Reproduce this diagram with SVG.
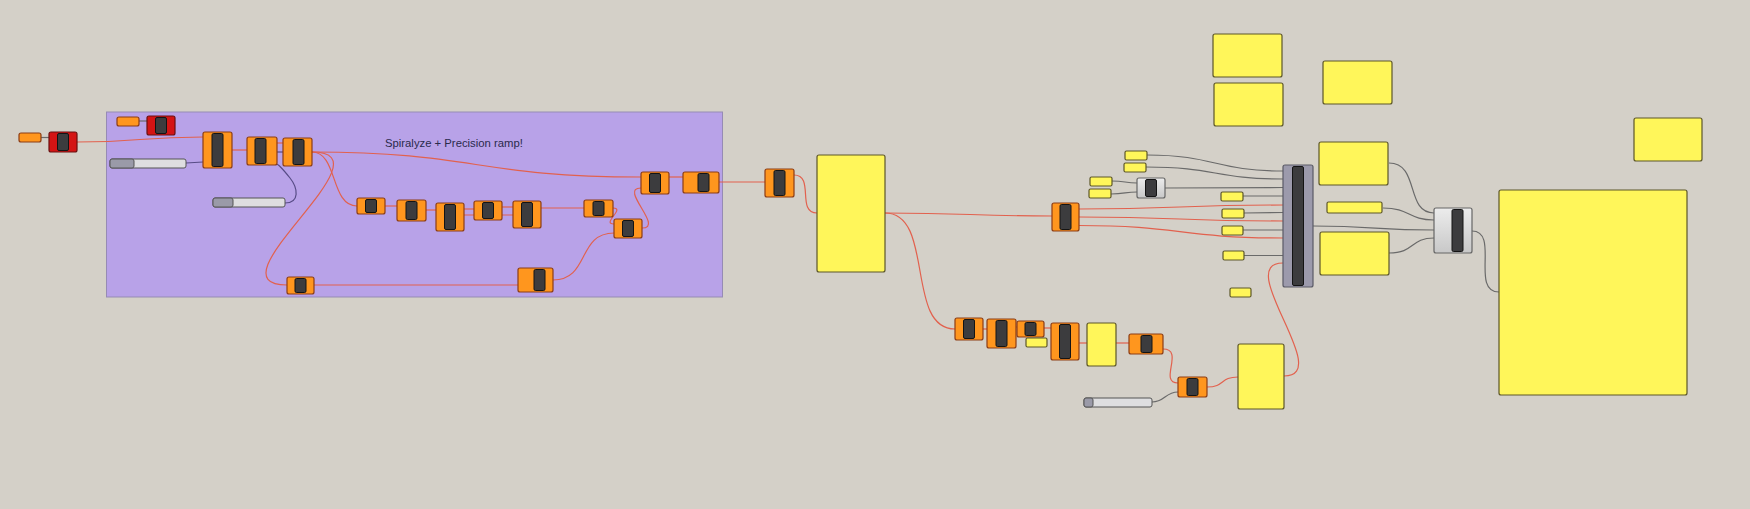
<svg xmlns="http://www.w3.org/2000/svg" width="1750" height="509" viewBox="0 0 1750 509">
<defs>
<style>
.bg{fill:#d4d0c8}
.grp{fill:#b8a2e8;stroke:#968bb4;stroke-width:1}
.oc{fill:#ff961e;stroke:#8c3c14;stroke-width:1.2}
.rc{fill:#d41414;stroke:#6a1010;stroke-width:1.2}
.gc{fill:url(#gg);stroke:#666;stroke-width:1.2}
.sc{fill:#9c9aac;stroke:#5a5a66;stroke-width:1.2}
.bar{fill:#3c3c3e;stroke:#141414;stroke-width:1}
.yp{fill:#fff65a;stroke:#5c5628;stroke-width:1.2}
.sl{fill:#dedee0;stroke:#555;stroke-width:1}
.slk{fill:#9a9aa8;stroke:#555;stroke-width:1}
.wr{fill:none;stroke:#e2614e;stroke-width:1.2}
.wg{fill:none;stroke:#6a6a6a;stroke-width:1.2}
.wp{fill:none;stroke:#574c86;stroke-width:1.2}
.t{font-family:"Liberation Sans",Arial,sans-serif;font-size:11.3px;fill:#2a2a4c}
</style>
<linearGradient id="gg" x1="0" y1="0" x2="0" y2="1">
<stop offset="0" stop-color="#ececec"/>
<stop offset="1" stop-color="#c8c8c8"/>
</linearGradient>
</defs>
<rect class="bg" x="0" y="0" width="1750" height="509"/>

<g id="group-spiralyze">
<rect class="grp" x="106.5" y="112" width="616" height="185"/>
<text class="t" x="385" y="146.5">Spiralyze + Precision ramp!</text>
</g>

<g id="connectors">
<path class="wg" d="M41,137.5 L49,137.5"/>
<path class="wg" d="M139,121 L147,121"/>
<path class="wr" d="M77,142 C140,142 140,137 203,137"/>
<path class="wp" d="M186,163 L203,162"/>
<path class="wr" d="M232,150 L247,150"/>
<path class="wr" d="M277,143 L283,143"/>
<path class="wp" d="M277,152 L283,152"/>
<path class="wp" d="M285,203 C300,203 298,188 290,178 C282,168 277,163 277,165"/>
<path class="wr" d="M312,152 C476,152 476,177 641,177"/>
<path class="wr" d="M312,152 C338,152 330,206 357,206"/>
<path class="wr" d="M312,152 C395,152 205,285 287,285"/>
<path class="wr" d="M385,206 L397,206"/>
<path class="wr" d="M426,210 L436,210"/>
<path class="wr" d="M464,209 L474,209"/>
<path class="wr" d="M464,215 L513,215"/>
<path class="wr" d="M502,207 L513,207"/>
<path class="wr" d="M541,208 L584,208"/>
<path class="wr" d="M613,208 C626,208 601,224 614,224"/>
<path class="wr" d="M314,285 L518,285"/>
<path class="wr" d="M553,280 C590,280 577,233 614,233"/>
<path class="wr" d="M642,228 C665,228 618,188 641,188"/>
<path class="wr" d="M669,177 L683,177"/>
<path class="wr" d="M719,182 L765,182"/>
<path class="wr" d="M794,175 C815,175 796,213 817,213"/>
<path class="wr" d="M885,213 C970,213 970,216 1052,216"/>
<path class="wr" d="M885,213 C935,213 905,329 955,329"/>
<path class="wr" d="M1079,209 C1180,209 1180,205 1283,205"/>
<path class="wr" d="M1079,217 C1180,217 1180,221 1283,221"/>
<path class="wr" d="M1079,225.5 C1180,225.5 1180,238 1283,238"/>
<path class="wg" d="M1147,155 C1215,155 1215,171 1283,171"/>
<path class="wg" d="M1146,167 C1215,167 1215,179 1283,179"/>
<path class="wg" d="M1112,181 C1125,181 1125,183 1137,183"/>
<path class="wg" d="M1111,194 C1125,194 1125,192 1137,192"/>
<path class="wg" d="M1165,188 L1283,187.5"/>
<path class="wg" d="M1243,196 L1283,196"/>
<path class="wg" d="M1244,213 L1283,212.5"/>
<path class="wg" d="M1243,230 L1283,230"/>
<path class="wg" d="M1244,255.5 L1283,255.5"/>
<path class="wr" d="M1284,376 C1335,376 1232,263 1283,263"/>
<path class="wg" d="M1313,226 C1375,226 1375,230 1434,230"/>
<path class="wg" d="M1389,163 C1420,163 1405,213 1434,213"/>
<path class="wg" d="M1383,208 C1410,208 1408,220 1434,220"/>
<path class="wg" d="M1389,253 C1415,253 1410,238 1434,238"/>
<path class="wg" d="M1472,231 C1500,231 1470,292 1499,292"/>
<path class="wr" d="M983,329 L987,329"/>
<path class="wr" d="M1016,327 L1017,327"/>
<path class="wr" d="M1043,328 L1051,328"/>
<path class="wr" d="M1079,343 L1087,343"/>
<path class="wr" d="M1116,343 L1129,343"/>
<path class="wr" d="M1163,349 C1185,349 1158,383 1178,383"/>
<path class="wg" d="M1152,402 C1165,402 1165,392 1178,392"/>
<path class="wr" d="M1207,387 C1225,387 1220,377 1238,377"/>
</g>

<g id="param-1"><rect class="oc" x="19" y="133" width="22" height="9" rx="2"/></g>
<g id="red-1"><rect class="rc" x="49" y="132" width="28" height="20" rx="2"/><rect class="bar" x="57.5" y="133.5" width="11" height="17" rx="1.5"/></g>
<g id="param-2"><rect class="oc" x="117" y="117" width="22" height="9" rx="2"/></g>
<g id="red-2"><rect class="rc" x="147" y="116" width="28" height="19" rx="2"/><rect class="bar" x="155.5" y="117.5" width="11" height="16" rx="1.5"/></g>

<g id="slider-1"><rect class="sl" x="110" y="159" width="76" height="9" rx="2"/><rect class="slk" x="110" y="159" width="24" height="9" rx="2"/></g>
<g id="slider-2"><rect class="sl" x="213" y="198" width="72" height="9" rx="2"/><rect class="slk" x="213" y="198" width="20" height="9" rx="2"/></g>

<g id="comp-A"><rect class="oc" x="203" y="132" width="29" height="36" rx="2"/><rect class="bar" x="212" y="133.5" width="11" height="33" rx="1.5"/></g>
<g id="comp-B"><rect class="oc" x="247" y="137" width="30" height="28" rx="2"/><rect class="bar" x="255" y="138.5" width="11" height="25" rx="1.5"/></g>
<g id="comp-C"><rect class="oc" x="283" y="138" width="29" height="28" rx="2"/><rect class="bar" x="293" y="139.5" width="11" height="25" rx="1.5"/></g>
<g id="comp-D"><rect class="oc" x="287" y="277" width="27" height="17" rx="2"/><rect class="bar" x="295" y="278.5" width="11" height="14" rx="1.5"/></g>
<g id="comp-E"><rect class="oc" x="357" y="198" width="28" height="16" rx="2"/><rect class="bar" x="365.5" y="199.5" width="11" height="13" rx="1.5"/></g>
<g id="comp-F"><rect class="oc" x="397" y="200" width="29" height="21" rx="2"/><rect class="bar" x="406" y="201.5" width="11" height="18" rx="1.5"/></g>
<g id="comp-G"><rect class="oc" x="436" y="203" width="28" height="28" rx="2"/><rect class="bar" x="444.5" y="204.5" width="11" height="25" rx="1.5"/></g>
<g id="comp-H"><rect class="oc" x="474" y="201" width="28" height="19" rx="2"/><rect class="bar" x="482.5" y="202.5" width="11" height="16" rx="1.5"/></g>
<g id="comp-I"><rect class="oc" x="513" y="201" width="28" height="27" rx="2"/><rect class="bar" x="521.5" y="202.5" width="11" height="24" rx="1.5"/></g>
<g id="comp-J"><rect class="oc" x="518" y="268" width="35" height="24" rx="2"/><rect class="bar" x="534" y="269.5" width="11" height="21" rx="1.5"/></g>
<g id="comp-K"><rect class="oc" x="584" y="200" width="29" height="17" rx="2"/><rect class="bar" x="593" y="201.5" width="11" height="14" rx="1.5"/></g>
<g id="comp-L"><rect class="oc" x="614" y="219" width="28" height="19" rx="2"/><rect class="bar" x="622.5" y="220.5" width="11" height="16" rx="1.5"/></g>
<g id="comp-M"><rect class="oc" x="641" y="172" width="28" height="22" rx="2"/><rect class="bar" x="649.5" y="173.5" width="11" height="19" rx="1.5"/></g>
<g id="comp-N"><rect class="oc" x="683" y="172" width="36" height="21" rx="2"/><rect class="bar" x="698" y="173.5" width="11" height="18" rx="1.5"/></g>
<g id="comp-O"><rect class="oc" x="765" y="169" width="29" height="28" rx="2"/><rect class="bar" x="774" y="170.5" width="11" height="25" rx="1.5"/></g>

<g id="panel-P1"><rect class="yp" x="817" y="155" width="68" height="117" rx="2"/></g>

<g id="comp-Q"><rect class="oc" x="1052" y="203" width="27" height="28" rx="2"/><rect class="bar" x="1060" y="204.5" width="11" height="25" rx="1.5"/></g>

<g id="small-Y1"><rect class="yp" x="1125" y="151" width="22" height="9" rx="1.5"/></g>
<g id="small-Y2"><rect class="yp" x="1124" y="163" width="22" height="9" rx="1.5"/></g>
<g id="small-Y3"><rect class="yp" x="1090" y="177" width="22" height="9" rx="1.5"/></g>
<g id="small-Y4"><rect class="yp" x="1089" y="189" width="22" height="9" rx="1.5"/></g>
<g id="comp-R"><rect class="gc" x="1137" y="178" width="28" height="20" rx="2"/><rect class="bar" x="1145.5" y="179.5" width="11" height="17" rx="1.5"/></g>
<g id="small-Y5"><rect class="yp" x="1221" y="192" width="22" height="9" rx="1.5"/></g>
<g id="small-Y6"><rect class="yp" x="1222" y="209" width="22" height="9" rx="1.5"/></g>
<g id="small-Y7"><rect class="yp" x="1222" y="226" width="21" height="9" rx="1.5"/></g>
<g id="small-Y8"><rect class="yp" x="1223" y="251" width="21" height="9" rx="1.5"/></g>
<g id="small-Y9"><rect class="yp" x="1230" y="288" width="21" height="9" rx="1.5"/></g>

<g id="comp-S"><rect class="sc" x="1283" y="165" width="30" height="122" rx="2"/><rect class="bar" x="1292.5" y="166.5" width="11" height="119" rx="1.5"/></g>

<g id="panel-U1"><rect class="yp" x="1213" y="34" width="69" height="43" rx="2"/></g>
<g id="panel-U2"><rect class="yp" x="1214" y="83" width="69" height="43" rx="2"/></g>
<g id="panel-U3"><rect class="yp" x="1323" y="61" width="69" height="43" rx="2"/></g>
<g id="panel-Z1"><rect class="yp" x="1319" y="142" width="69" height="43" rx="2"/></g>
<g id="panel-Z2"><rect class="yp" x="1327" y="202" width="55" height="11" rx="1.5"/></g>
<g id="panel-Z3"><rect class="yp" x="1320" y="232" width="69" height="43" rx="2"/></g>
<g id="comp-T"><rect class="gc" x="1434" y="208" width="38" height="45" rx="2"/><rect class="bar" x="1452" y="209.5" width="11" height="42" rx="1.5"/></g>
<g id="panel-V"><rect class="yp" x="1634" y="118" width="68" height="43" rx="2"/></g>
<g id="panel-W"><rect class="yp" x="1499" y="190" width="188" height="205" rx="2"/></g>

<g id="comp-a"><rect class="oc" x="955" y="318" width="28" height="22" rx="2"/><rect class="bar" x="963.5" y="319.5" width="11" height="19" rx="1.5"/></g>
<g id="comp-b"><rect class="oc" x="987" y="319" width="29" height="29" rx="2"/><rect class="bar" x="996" y="320.5" width="11" height="26" rx="1.5"/></g>
<g id="comp-c"><rect class="oc" x="1017" y="321" width="27" height="16" rx="2"/><rect class="bar" x="1025" y="322.5" width="11" height="13" rx="1.5"/></g>
<g id="small-y10"><rect class="yp" x="1026" y="338" width="21" height="9" rx="1.5"/></g>
<g id="comp-d"><rect class="oc" x="1051" y="323" width="28" height="37" rx="2"/><rect class="bar" x="1059.5" y="324.5" width="11" height="34" rx="1.5"/></g>
<g id="panel-y11"><rect class="yp" x="1087" y="323" width="29" height="43" rx="2"/></g>
<g id="comp-e"><rect class="oc" x="1129" y="334" width="34" height="20" rx="2"/><rect class="bar" x="1141" y="335.5" width="11" height="17" rx="1.5"/></g>
<g id="slider-3"><rect class="sl" x="1084" y="398" width="68" height="9" rx="2"/><rect class="slk" x="1084" y="398" width="9" height="9" rx="2"/></g>
<g id="comp-f"><rect class="oc" x="1178" y="377" width="29" height="20" rx="2"/><rect class="bar" x="1187" y="378.5" width="11" height="17" rx="1.5"/></g>
<g id="panel-y12"><rect class="yp" x="1238" y="344" width="46" height="65" rx="2"/></g>
</svg>
